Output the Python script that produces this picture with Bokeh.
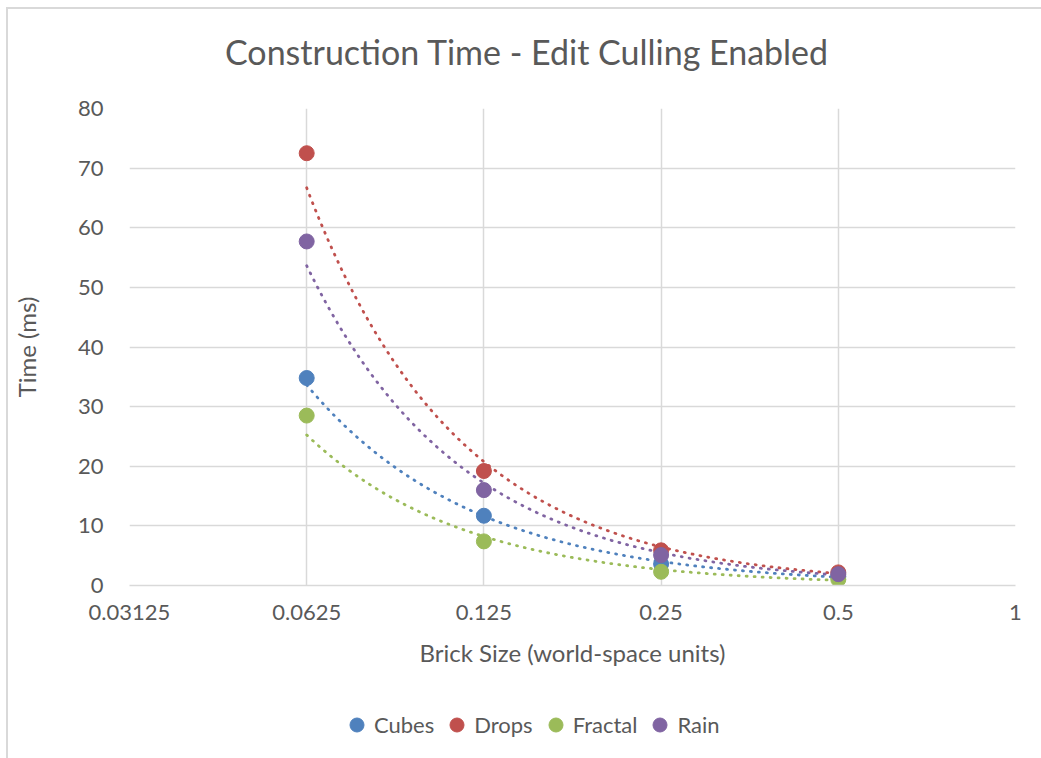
import numpy as np
from bokeh.plotting import figure
from bokeh.layouts import column
from bokeh.core.properties import value
from bokeh.models import (Range1d, FixedTicker, CustomJSTickFormatter, Legend,
                          LegendItem, ColumnDataSource)
from bokeh.embed import file_html
from bokeh.resources import INLINE

# Brick sizes (world-space units) and construction times (ms)
brick_size = [0.0625, 0.125, 0.25, 0.5]
cubes = [34.8, 11.7, 3.6, 1.5]
drops = [72.5, 19.2, 5.9, 2.2]
fractal = [28.5, 7.4, 2.3, 1.0]
rain = [57.7, 16.0, 5.1, 1.9]

series_names = ["Cubes", "Drops", "Fractal", "Rain"]
series_values = [cubes, drops, fractal, rain]
series_colors = ["#4F81BD", "#C0504D", "#9BBB59", "#8064A2"]

x_ticks = [0.03125, 0.0625, 0.125, 0.25, 0.5, 1]
y_ticks = [0, 10, 20, 30, 40, 50, 60, 70, 80]

chart_title = "Construction Time - Edit Culling Enabled"

FONT = "Lato"
TEXT = "#595959"
GRID = "#D9D9D9"

W = 1033
TITLE_H = 79
MAIN_H = 611
LEG_H = 59
BORDER_L, BORDER_R = 120, 26


def strip(height, x_range, y_range):
    f = figure(width=W, height=height, x_range=x_range, y_range=y_range,
               output_backend="svg", toolbar_location=None,
               min_border_left=BORDER_L, min_border_right=BORDER_R,
               min_border_top=0, min_border_bottom=0)
    f.axis.visible = False
    f.grid.visible = False
    f.outline_line_color = None
    f.background_fill_color = "white"
    f.border_fill_color = "white"
    return f


# Title strip: x/y ranges in pixels so the heading can sit where it belongs
title_fig = strip(TITLE_H, Range1d(0, 887), Range1d(TITLE_H, 0))
title_fig.text(x=[398], y=[42], text=[chart_title], text_font=value(FONT),
               text_font_size="34px", text_color=TEXT, text_align="center",
               text_baseline="middle")

# Main chart
p = figure(
    width=W, height=MAIN_H,
    x_axis_type="log",
    x_range=Range1d(0.03125, 1), y_range=Range1d(0, 80),
    output_backend="svg", toolbar_location=None,
    min_border_left=BORDER_L, min_border_right=BORDER_R,
    min_border_top=20, min_border_bottom=114,
)
p.outline_line_color = None
p.background_fill_color = "white"
p.border_fill_color = "white"

p.xaxis.ticker = FixedTicker(ticks=x_ticks)
p.xaxis.formatter = CustomJSTickFormatter(code="return tick.toString();")
p.yaxis.ticker = FixedTicker(ticks=y_ticks)
for ax in (p.xaxis[0], p.yaxis[0]):
    ax.major_tick_line_color = None
    ax.minor_tick_line_color = None
    ax.major_label_text_font = FONT
    ax.major_label_text_font_size = "22px"
    ax.major_label_text_color = TEXT
    ax.axis_label_text_font = FONT
    ax.axis_label_text_font_size = "24px"
    ax.axis_label_text_font_style = "normal"
    ax.axis_label_text_color = TEXT
p.xaxis.axis_line_color = GRID
p.xaxis.axis_line_width = 1.5
p.yaxis.axis_line_color = None
p.xaxis.major_label_standoff = 13
p.yaxis.major_label_standoff = 20
p.xaxis.axis_label = "Brick Size (world-space units)"
p.yaxis.axis_label = "Time (ms)"
p.xaxis.axis_label_standoff = 15
p.yaxis.axis_label_standoff = 34

p.xgrid.grid_line_color = GRID
p.ygrid.grid_line_color = GRID
p.xgrid.grid_line_width = 1.5
p.ygrid.grid_line_width = 1.5

# Power-law trendlines (least squares in log-log space), spanning the data
xs = np.asarray(brick_size)
x_fit = np.geomspace(xs.min(), xs.max(), 200)
for vals, color in zip(series_values, series_colors):
    b, ln_a = np.polyfit(np.log(xs), np.log(np.asarray(vals)), 1)
    y_fit = np.exp(ln_a) * x_fit ** b
    p.line(x_fit, y_fit, line_color=color, line_width=2.8,
           line_dash="1 7", line_cap="round")

# Measured points
for name, vals, color in zip(series_names, series_values, series_colors):
    src = ColumnDataSource(dict(x=brick_size, y=vals))
    p.scatter("x", "y", source=src, size=15, fill_color=color,
              line_color=color, marker="circle")

# Legend strip underneath the chart; proxy glyphs sit outside its view
leg_fig = strip(LEG_H, Range1d(0, 1), Range1d(0, 1))
items = []
for name, color in zip(series_names, series_colors):
    r = leg_fig.scatter(x=[-5], y=[-5], size=15, fill_color=color,
                        line_color=color, marker="circle")
    items.append(LegendItem(label=name, renderers=[r]))

# legend markers are drawn at 0.4 x the glyph box, so a 35px box gives ~14px dots
legend = Legend(items=items, orientation="horizontal", location=(210, 16))
legend.label_text_font = FONT
legend.label_text_font_size = "22px"
legend.label_text_color = TEXT
legend.border_line_color = None
legend.background_fill_alpha = 0
legend.glyph_width = 35
legend.glyph_height = 35
legend.label_standoff = 0
legend.spacing = 5
legend.padding = 0
legend.margin = 0
leg_fig.add_layout(legend, "center")

layout = column(title_fig, p, leg_fig, spacing=0)
layout.styles = {
    "margin-left": "6px", "margin-top": "7px",
    "border-left": "2px solid #D9D9D9", "border-top": "2px solid #D9D9D9",
}

open("out.html", "w").write(file_html(layout, INLINE))
